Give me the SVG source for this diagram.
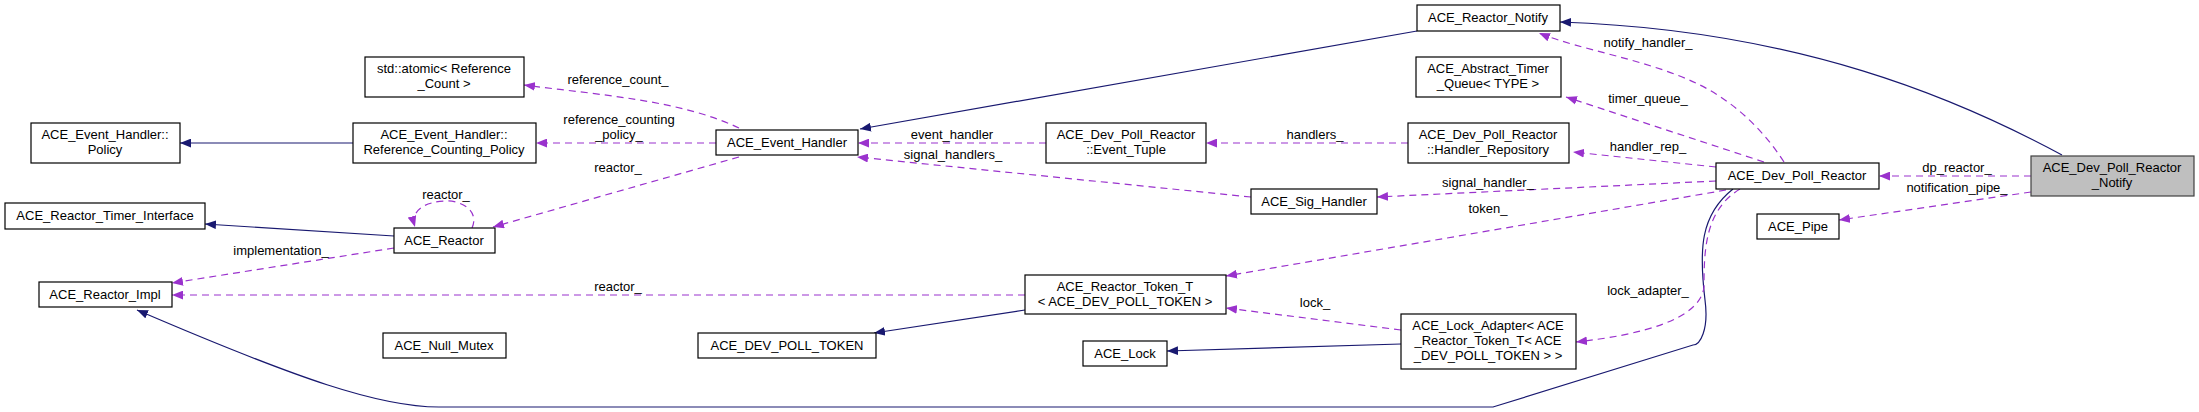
<svg xmlns="http://www.w3.org/2000/svg" width="2199" height="412" viewBox="0 0 2199 412">
<style>
.n rect{fill:#fff;stroke:#000;stroke-width:1.2}
.n.g rect{fill:#bfbfbf;stroke:#404040}
text{font-family:"Liberation Sans",Arial,sans-serif;font-size:13px;fill:#000;text-anchor:middle}
.s{fill:none;stroke:#191970;stroke-width:1.2;marker-end:url(#an)}
.d{fill:none;stroke:#9a32cd;stroke-width:1.2;stroke-dasharray:7,5;marker-end:url(#ap)}
</style>
<defs>
<marker id="an" viewBox="0 0 10 8" refX="10" refY="4" markerWidth="11" markerHeight="9" markerUnits="userSpaceOnUse" orient="auto"><path d="M0,0L10,4L0,8z" fill="#191970"/></marker>
<marker id="ap" viewBox="0 0 10 8" refX="10" refY="4" markerWidth="11" markerHeight="9" markerUnits="userSpaceOnUse" orient="auto"><path d="M0,0L10,4L0,8z" fill="#9a32cd"/></marker>
</defs>
<rect width="2199" height="412" fill="#fff"/>
<g id="connectors">
<path class="s" d="M353,143L180,143"/>
<path class="s" d="M394,236L205,224"/>
<path class="s" d="M1417,31L860,129"/>
<path class="s" d="M1025,310L874,333"/>
<path class="s" d="M1401,344L1167,351"/>
<path class="s" d="M1733,189C1700,215 1699,250 1705,300C1709,330 1700,345 1693,345L1493,407L439,407C380,407 300,380 137,310"/>
<path class="s" d="M2062,155C1960,100 1800,30 1560,22"/>
<path class="d" d="M739,128C680,100 600,95 524,85"/>
<path class="d" d="M716,143L536,143"/>
<path class="d" d="M739,157L493,227"/>
<path class="d" d="M472,228C480,210 460,200 445,201C425,202 410,210 415,227"/>
<path class="d" d="M394,248L172,283"/>
<path class="d" d="M1025,295L172,295"/>
<path class="d" d="M1046,143L858,143"/>
<path class="d" d="M1251,197L857,157"/>
<path class="d" d="M1408,143L1206,143"/>
<path class="d" d="M1784,162C1760,125 1730,100 1700,85C1650,60 1580,50 1539,33"/>
<path class="d" d="M1764,162L1566,97"/>
<path class="d" d="M1716,167L1573,152"/>
<path class="d" d="M1716,181L1377,197"/>
<path class="d" d="M1726,190L1226,276"/>
<path class="d" d="M1401,330L1226,308"/>
<path class="d" d="M1740,189C1705,210 1704,250 1704,287C1700,320 1640,335 1576,342"/>
<path class="d" d="M2031,176L1879,176"/>
<path class="d" d="M2031,192L1839,220"/>
</g>
<g id="labels">
<text x="618" y="84">reference_count_</text>
<text x="619" y="124">reference_counting</text>
<text x="619" y="139">_policy_</text>
<text x="618" y="172">reactor_</text>
<text x="446" y="199">reactor_</text>
<text x="281" y="255">implementation_</text>
<text x="618" y="291">reactor_</text>
<text x="952" y="139">event_handler</text>
<text x="953" y="159">signal_handlers_</text>
<text x="1315" y="139">handlers_</text>
<text x="1648" y="47">notify_handler_</text>
<text x="1648" y="103">timer_queue_</text>
<text x="1648" y="151">handler_rep_</text>
<text x="1488" y="187">signal_handler_</text>
<text x="1488" y="213">token_</text>
<text x="1315" y="307">lock_</text>
<text x="1648" y="295">lock_adapter_</text>
<text x="1957" y="172">dp_reactor_</text>
<text x="1957" y="192">notification_pipe_</text>
</g>
<g id="policy" class="n"><rect x="31" y="123" width="149" height="40"/><text x="105" y="139">ACE_Event_Handler::</text><text x="105" y="154">Policy</text></g>
<g id="atomic" class="n"><rect x="365" y="57" width="159" height="40"/><text x="444" y="73">std::atomic&lt; Reference</text><text x="444" y="88">_Count &gt;</text></g>
<g id="refpolicy" class="n"><rect x="353" y="123" width="183" height="40"/><text x="444" y="139">ACE_Event_Handler::</text><text x="444" y="154">Reference_Counting_Policy</text></g>
<g id="timerif" class="n"><rect x="5" y="203" width="200" height="26"/><text x="105" y="220">ACE_Reactor_Timer_Interface</text></g>
<g id="reactor" class="n"><rect x="394" y="228" width="101" height="25"/><text x="444" y="245">ACE_Reactor</text></g>
<g id="reactorimpl" class="n"><rect x="39" y="282" width="133" height="25"/><text x="105" y="299">ACE_Reactor_Impl</text></g>
<g id="nullmutex" class="n"><rect x="383" y="333" width="123" height="25"/><text x="444" y="350">ACE_Null_Mutex</text></g>
<g id="eventhandler" class="n"><rect x="716" y="130" width="142" height="25"/><text x="787" y="147">ACE_Event_Handler</text></g>
<g id="devpolltoken" class="n"><rect x="698" y="333" width="178" height="25"/><text x="787" y="350">ACE_DEV_POLL_TOKEN</text></g>
<g id="eventtuple" class="n"><rect x="1046" y="123" width="160" height="40"/><text x="1126" y="139">ACE_Dev_Poll_Reactor</text><text x="1126" y="154">::Event_Tuple</text></g>
<g id="sighandler" class="n"><rect x="1251" y="189" width="126" height="25"/><text x="1314" y="206">ACE_Sig_Handler</text></g>
<g id="tokent" class="n"><rect x="1025" y="275" width="201" height="39"/><text x="1125" y="291">ACE_Reactor_Token_T</text><text x="1125" y="306">&lt; ACE_DEV_POLL_TOKEN &gt;</text></g>
<g id="acelock" class="n"><rect x="1083" y="341" width="84" height="25"/><text x="1125" y="358">ACE_Lock</text></g>
<g id="reactornotify" class="n"><rect x="1417" y="5" width="143" height="26"/><text x="1488" y="22">ACE_Reactor_Notify</text></g>
<g id="timerqueue" class="n"><rect x="1416" y="57" width="145" height="40"/><text x="1488" y="73">ACE_Abstract_Timer</text><text x="1488" y="88">_Queue&lt; TYPE &gt;</text></g>
<g id="handlerrepo" class="n"><rect x="1408" y="123" width="161" height="40"/><text x="1488" y="139">ACE_Dev_Poll_Reactor</text><text x="1488" y="154">::Handler_Repository</text></g>
<g id="lockadapter" class="n"><rect x="1401" y="314" width="175" height="55"/><text x="1488" y="330">ACE_Lock_Adapter&lt; ACE</text><text x="1488" y="345">_Reactor_Token_T&lt; ACE</text><text x="1488" y="360">_DEV_POLL_TOKEN &gt; &gt;</text></g>
<g id="devpollreactor" class="n"><rect x="1716" y="163" width="163" height="26"/><text x="1797" y="180">ACE_Dev_Poll_Reactor</text></g>
<g id="pipe" class="n"><rect x="1757" y="214" width="82" height="25"/><text x="1798" y="231">ACE_Pipe</text></g>
<g id="notify" class="n g"><rect x="2031" y="156" width="163" height="40"/><text x="2112" y="172">ACE_Dev_Poll_Reactor</text><text x="2112" y="187">_Notify</text></g>
</svg>
